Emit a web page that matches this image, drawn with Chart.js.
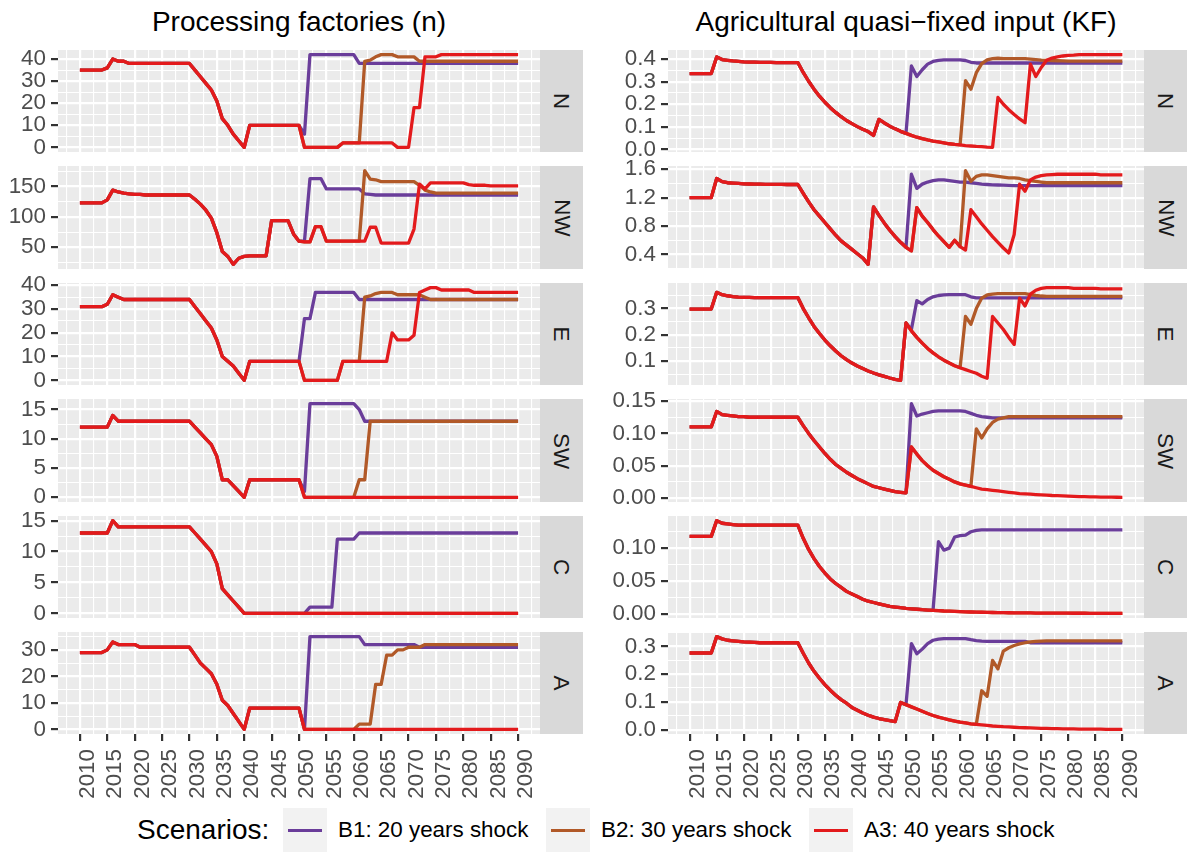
<!DOCTYPE html>
<html>
<head>
<meta charset="utf-8">
<script src="https://cdn.jsdelivr.net/npm/chart.js"></script>
<style>
    body {
        margin: 0;
        width: 1192px;
        height: 854px;
        position: relative;
        overflow: hidden;
        background: #ffffff;
        font-family: "Liberation Sans", Arial, sans-serif;
    }
    canvas { position: absolute; }
    .title {
        position: absolute;
        top: 6px;
        line-height: 32px;
        font-size: 28px;
        color: #000;
        white-space: nowrap;
        transform: translateX(-50%);
    }
    .strip {
        position: absolute;
        background: #d9d9d9;
        color: #1a1a1a;
        font-size: 22.4px;
        display: flex;
        align-items: center;
        justify-content: center;
    }
    .strip span { transform: rotate(90deg); white-space: nowrap; }
    .legend-title, .legend-text {
        position: absolute;
        top: 808px;
        height: 44px;
        line-height: 44px;
        white-space: nowrap;
        color: #000;
    }
    .legend-title { font-size: 28px; }
    .legend-text { font-size: 22.4px; }
    .legend-key {
        position: absolute;
        top: 808px;
        width: 44px;
        height: 44px;
        background: #f2f2f2;
    }
    .legend-key div {
        position: absolute;
        left: 5px;
        right: 5px;
        top: 20.5px;
        height: 3px;
    }
</style>
</head>
<body>
<script>
// DATA (one value per year)
const years = [
    2010, 2011, 2012, 2013, 2014, 2015, 2016, 2017, 2018, 2019,
    2020, 2021, 2022, 2023, 2024, 2025, 2026, 2027, 2028, 2029,
    2030, 2031, 2032, 2033, 2034, 2035, 2036, 2037, 2038, 2039,
    2040, 2041, 2042, 2043, 2044, 2045, 2046, 2047, 2048, 2049,
    2050, 2051, 2052, 2053, 2054, 2055, 2056, 2057, 2058, 2059,
    2060, 2061, 2062, 2063, 2064, 2065, 2066, 2067, 2068, 2069,
    2070, 2071, 2072, 2073, 2074, 2075, 2076, 2077, 2078, 2079,
    2080, 2081, 2082, 2083, 2084, 2085, 2086, 2087, 2088, 2089,
    2090
];
const xTicks = [2010, 2015, 2020, 2025, 2030, 2035, 2040, 2045, 2050, 2055, 2060, 2065, 2070, 2075, 2080, 2085, 2090];

const regions = ["N", "NW", "E", "SW", "C", "A"];
const scenarios = ["B1: 20 years shock", "B2: 30 years shock", "A3: 40 years shock"];

// Processing factories (n): shared path 2010-2050, then each scenario 2051-2090
const nN_shared = [35,35,35,35,35,36,40,39,39,38, 38,38,38,38,38,38,38,38,38,38, 38,35,32,29,26,21,13,10,6,3, 0,10,10,10,10,10,10,10,10,10, 10];
const nN_B1 = [6,42,42,42,42,42,42,42,42,42, 38,38,38,38,38,38,38,38,38,38, 38,38,38,38,38,38,38,38,38,38, 38,38,38,38,38,38,38,38,38,38];
const nN_B2 = [0,0,0,0,0,0,0,2,2,2, 2,39,39.5,41,42,42,42,41,41,41, 41,39,39,39,39,39,39,39,39,39, 39,39,39,39,39,39,39,39,39,39];
const nN_A3 = [0,0,0,0,0,0,0,2,2,2, 2,2,2,2,2,2,2,0,0,0, 18,18,41,41,41,42,42,42,42,42, 42,42,42,42,42,42,42,42,42,42];
const nN_ticks = [0, 10, 20, 30, 40];

const nNW_shared = [123,123,123,123,123,128,144,141,139,138, 137,137,136,136,136,136,136,136,136,136, 136,129,121,111,98,74,43,35,22,32, 35,36,36,36,36,94,94,94,94,72, 60];
const nNW_B1 = [60,163,163,163,146,146,146,146,146,146, 146,138,137,136,136,136,136,136,136,136, 136,136,136,136,136,136,136,136,136,136, 136,136,136,136,136,136,136,136,136,136];
const nNW_B2 = [59,59,84,84,60,60,60,60,60,60, 60,176,162,161,158,158,158,158,158,158, 158,152,144,141,139,139,139,139,139,139, 139,139,139,139,139,139,139,139,139,139];
const nNW_A3 = [59,59,84,84,60,60,60,60,60,60, 60,60,83,83,57,57,57,57,57,57, 80,154,146,156,156,156,156,156,156,156, 153,152,152,152,151,151,151,151,151,151];
const nNW_ticks = [50, 100, 150];

const nE_shared = [31,31,31,31,31,32,36,35,34,34, 34,34,34,34,34,34,34,34,34,34, 34,31,28,25,22,17,10,8,6,3, 0,8,8,8,8,8,8,8,8,8, 8];
const nE_B1 = [26,26,37,37,37,37,37,37,37,37, 34,34,34,34,34,34,34,34,34,34, 34,34,34,34,34,34,34,34,34,34, 34,34,34,34,34,34,34,34,34,34];
const nE_B2 = [0,0,0,0,0,0,0,8,8,8, 8,35,35.5,36.5,37,37,37,36,36,36, 36,36,35,34,34,34,34,34,34,34, 34,34,34,34,34,34,34,34,34,34];
const nE_A3 = [0,0,0,0,0,0,0,8,8,8, 8,8,8,8,8,8,20,17,17,17, 19,37,38,39,39,38,38,38,38,38, 38,37,37,37,37,37,37,37,37,37];
const nE_ticks = [0, 10, 20, 30, 40];

const nSW_shared = [12,12,12,12,12,12,14,13,13,13, 13,13,13,13,13,13,13,13,13,13, 13,12,11,10,9,7,3,3,2,1, 0,3,3,3,3,3,3,3,3,3, 3];
const nSW_B1 = [1,16,16,16,16,16,16,16,16,16, 15,13,13,13,13,13,13,13,13,13, 13,13,13,13,13,13,13,13,13,13, 13,13,13,13,13,13,13,13,13,13];
const nSW_B2 = [0,0,0,0,0,0,0,0,0,0, 3,3,13,13,13,13,13,13,13,13, 13,13,13,13,13,13,13,13,13,13, 13,13,13,13,13,13,13,13,13,13];
const nSW_A3 = [0,0,0,0,0,0,0,0,0,0, 0,0,0,0,0,0,0,0,0,0, 0,0,0,0,0,0,0,0,0,0, 0,0,0,0,0,0,0,0,0,0];
const nSW_ticks = [0, 5, 10, 15];

const nC_shared = [13,13,13,13,13,13,15,14,14,14, 14,14,14,14,14,14,14,14,14,14, 14,13,12,11,10,8,4,3,2,1, 0,0,0,0,0,0,0,0,0,0, 0];
const nC_B1 = [0,1,1,1,1,1,12,12,12,12, 13,13,13,13,13,13,13,13,13,13, 13,13,13,13,13,13,13,13,13,13, 13,13,13,13,13,13,13,13,13,13];
const nC_B2 = [0,0,0,0,0,0,0,0,0,0, 0,0,0,0,0,0,0,0,0,0, 0,0,0,0,0,0,0,0,0,0, 0,0,0,0,0,0,0,0,0,0];
const nC_A3 = [0,0,0,0,0,0,0,0,0,0, 0,0,0,0,0,0,0,0,0,0, 0,0,0,0,0,0,0,0,0,0, 0,0,0,0,0,0,0,0,0,0];
const nC_ticks = [0, 5, 10, 15];

const nA_shared = [29,29,29,29,29,30,33,32,32,32, 32,31,31,31,31,31,31,31,31,31, 31,28,25,23,21,17,11,9,6,3, 0,8,8,8,8,8,8,8,8,8, 8];
const nA_B1 = [0,35,35,35,35,35,35,35,35,35, 35,32,32,32,32,32,32,32,32,32, 32,31,31,31,31,31,31,31,31,31, 31,31,31,31,31,31,31,31,31,31];
const nA_B2 = [0,0,0,0,0,0,0,0,0,0, 2,2,2,17,17,28,28,30,30,31, 31,31,32,32,32,32,32,32,32,32, 32,32,32,32,32,32,32,32,32,32];
const nA_A3 = [0,0,0,0,0,0,0,0,0,0, 0,0,0,0,0,0,0,0,0,0, 0,0,0,0,0,0,0,0,0,0, 0,0,0,0,0,0,0,0,0,0];
const nA_ticks = [0, 10, 20, 30];

// Agricultural quasi-fixed input (KF)
const kN_shared = [0.336,0.336,0.336,0.336,0.336,0.41,0.398,0.395,0.392,0.39, 0.388,0.387,0.387,0.386,0.386,0.386,0.385,0.385,0.385,0.385, 0.385,0.341,0.302,0.267,0.236,0.209,0.185,0.164,0.145,0.128, 0.114,0.101,0.089,0.079,0.062,0.133,0.117,0.103,0.091,0.08, 0.071];
const kN_B1 = [0.37,0.323,0.353,0.378,0.39,0.395,0.397,0.397,0.397,0.397, 0.394,0.386,0.383,0.383,0.383,0.383,0.383,0.383,0.383,0.383, 0.383,0.383,0.383,0.383,0.383,0.383,0.383,0.383,0.383,0.383, 0.383,0.383,0.383,0.383,0.383,0.383,0.383,0.383,0.383,0.383];
const kN_B2 = [0.062,0.054,0.048,0.042,0.037,0.033,0.029,0.025,0.022,0.02, 0.305,0.267,0.34,0.38,0.397,0.402,0.404,0.402,0.402,0.402, 0.402,0.402,0.4,0.398,0.396,0.395,0.394,0.393,0.392,0.391, 0.391,0.391,0.391,0.391,0.391,0.391,0.391,0.391,0.391,0.391];
const kN_A3 = [0.062,0.054,0.048,0.042,0.037,0.033,0.029,0.025,0.022,0.02, 0.017,0.015,0.013,0.012,0.01,0.009,0.23,0.2,0.176,0.155, 0.135,0.118,0.378,0.323,0.363,0.395,0.405,0.41,0.414,0.417, 0.418,0.42,0.42,0.42,0.42,0.42,0.42,0.42,0.42,0.42];
const kN_ticks = [0, 0.1, 0.2, 0.3, 0.4];

const kNW_shared = [1.2,1.2,1.2,1.2,1.2,1.47,1.425,1.41,1.405,1.4, 1.395,1.392,1.39,1.39,1.388,1.388,1.386,1.386,1.385,1.385, 1.385,1.26,1.14,1.03,0.94,0.85,0.76,0.67,0.59,0.53, 0.47,0.41,0.35,0.26,1.07,0.95,0.84,0.74,0.65,0.57, 0.5];
const kNW_B1 = [1.53,1.33,1.39,1.42,1.44,1.45,1.45,1.44,1.43,1.42, 1.42,1.41,1.4,1.39,1.385,1.38,1.378,1.375,1.372,1.37, 1.37,1.37,1.37,1.37,1.37,1.37,1.37,1.37,1.37,1.37, 1.37,1.37,1.37,1.37,1.37,1.37,1.37,1.37,1.37,1.37];
const kNW_B2 = [0.45,1.06,0.94,0.85,0.75,0.66,0.58,0.5,0.6,0.51, 1.58,1.43,1.5,1.52,1.52,1.51,1.5,1.49,1.48,1.48, 1.47,1.45,1.44,1.43,1.42,1.41,1.41,1.41,1.41,1.41, 1.41,1.41,1.41,1.41,1.41,1.41,1.41,1.41,1.41,1.41];
const kNW_A3 = [0.45,1.06,0.94,0.85,0.75,0.66,0.58,0.5,0.6,0.51, 0.46,1.03,0.93,0.83,0.74,0.65,0.57,0.49,0.42,0.68, 1.39,1.29,1.45,1.49,1.51,1.52,1.525,1.53,1.53,1.53, 1.53,1.53,1.53,1.53,1.53,1.52,1.52,1.52,1.52,1.52];
const kNW_ticks = [0.4, 0.8, 1.2, 1.6];

const kE_shared = [0.298,0.298,0.298,0.298,0.298,0.362,0.353,0.349,0.346,0.344, 0.343,0.343,0.342,0.342,0.342,0.342,0.342,0.342,0.342,0.342, 0.342,0.3,0.265,0.232,0.205,0.18,0.158,0.138,0.12,0.105, 0.092,0.081,0.071,0.062,0.054,0.047,0.041,0.035,0.03,0.026, 0.245];
const kE_B1 = [0.22,0.33,0.318,0.335,0.345,0.35,0.352,0.353,0.353,0.353, 0.353,0.345,0.341,0.341,0.341,0.341,0.341,0.341,0.341,0.341, 0.341,0.341,0.341,0.341,0.341,0.341,0.341,0.341,0.341,0.341, 0.341,0.341,0.341,0.341,0.341,0.341,0.341,0.341,0.341,0.341];
const kE_B2 = [0.215,0.19,0.168,0.148,0.131,0.116,0.103,0.092,0.082,0.074, 0.27,0.24,0.3,0.34,0.352,0.355,0.357,0.357,0.357,0.357, 0.357,0.357,0.353,0.35,0.348,0.347,0.347,0.347,0.347,0.347, 0.347,0.347,0.347,0.347,0.347,0.347,0.347,0.347,0.347,0.347];
const kE_A3 = [0.215,0.19,0.168,0.148,0.131,0.116,0.103,0.092,0.082,0.074, 0.067,0.06,0.053,0.042,0.034,0.27,0.245,0.22,0.19,0.163, 0.34,0.31,0.355,0.37,0.377,0.38,0.38,0.38,0.38,0.38, 0.377,0.377,0.377,0.377,0.377,0.375,0.375,0.375,0.375,0.375];
const kE_ticks = [0.1, 0.2, 0.3];

const kSW_shared = [0.11,0.11,0.11,0.11,0.11,0.134,0.129,0.128,0.127,0.126, 0.126,0.125,0.125,0.125,0.125,0.125,0.125,0.125,0.125,0.125, 0.125,0.112,0.1,0.089,0.079,0.069,0.06,0.052,0.046,0.04, 0.035,0.03,0.026,0.022,0.018,0.016,0.014,0.012,0.01,0.009, 0.008];
const kSW_B1 = [0.146,0.127,0.13,0.132,0.134,0.135,0.135,0.135,0.135,0.135, 0.134,0.131,0.128,0.126,0.125,0.124,0.124,0.124,0.124,0.124, 0.124,0.124,0.124,0.124,0.124,0.124,0.124,0.124,0.124,0.124, 0.124,0.124,0.124,0.124,0.124,0.124,0.124,0.124,0.124,0.124];
const kSW_B2 = [0.079,0.068,0.058,0.05,0.043,0.038,0.033,0.029,0.025,0.022, 0.02,0.018,0.107,0.093,0.107,0.117,0.122,0.124,0.126,0.126, 0.126,0.126,0.126,0.126,0.126,0.126,0.126,0.126,0.126,0.126, 0.126,0.126,0.126,0.126,0.126,0.126,0.126,0.126,0.126,0.126];
const kSW_A3 = [0.079,0.068,0.058,0.05,0.043,0.038,0.033,0.029,0.025,0.022, 0.02,0.018,0.016,0.014,0.013,0.012,0.011,0.01,0.009,0.008, 0.007,0.0065,0.006,0.0055,0.005,0.0045,0.004,0.0037,0.0034,0.003, 0.0027,0.0024,0.0022,0.002,0.0018,0.0016,0.0015,0.0014,0.0013,0.0012];
const kSW_ticks = [0, 0.05, 0.1, 0.15];

const kC_shared = [0.118,0.118,0.118,0.118,0.118,0.142,0.138,0.137,0.136,0.135, 0.135,0.135,0.135,0.135,0.135,0.135,0.135,0.135,0.135,0.135, 0.135,0.115,0.098,0.084,0.072,0.062,0.053,0.046,0.04,0.034, 0.03,0.026,0.022,0.019,0.017,0.015,0.013,0.011,0.01,0.009, 0.008];
const kC_B1 = [0.0073,0.0067,0.006,0.0055,0.005,0.11,0.097,0.1,0.117,0.119, 0.12,0.125,0.127,0.128,0.128,0.128,0.128,0.128,0.128,0.128, 0.128,0.128,0.128,0.128,0.128,0.128,0.128,0.128,0.128,0.128, 0.128,0.128,0.128,0.128,0.128,0.128,0.128,0.128,0.128,0.128];
const kC_B2 = [0.0073,0.0067,0.006,0.0055,0.005,0.0045,0.004,0.0037,0.0034,0.003, 0.0027,0.0025,0.0023,0.0021,0.0019,0.0017,0.0015,0.0014,0.0013,0.0012, 0.0011,0.001,0.001,0.0009,0.0009,0.0008,0.0008,0.0007,0.0007,0.0007, 0.0006,0.0006,0.0006,0.0005,0.0005,0.0005,0.0005,0.0004,0.0004,0.0004];
const kC_A3 = [0.0073,0.0067,0.006,0.0055,0.005,0.0045,0.004,0.0037,0.0034,0.003, 0.0027,0.0025,0.0023,0.0021,0.0019,0.0017,0.0015,0.0014,0.0013,0.0012, 0.0011,0.001,0.001,0.0009,0.0009,0.0008,0.0008,0.0007,0.0007,0.0007, 0.0006,0.0006,0.0006,0.0005,0.0005,0.0005,0.0005,0.0004,0.0004,0.0004];
const kC_ticks = [0, 0.05, 0.1];

const kA_shared = [0.276,0.276,0.276,0.276,0.276,0.335,0.327,0.322,0.32,0.318, 0.316,0.315,0.314,0.313,0.313,0.313,0.313,0.313,0.313,0.313, 0.313,0.275,0.24,0.21,0.185,0.162,0.142,0.124,0.108,0.095, 0.08,0.07,0.06,0.052,0.045,0.04,0.036,0.032,0.029,0.098, 0.09];
const kA_B1 = [0.31,0.273,0.29,0.31,0.322,0.326,0.328,0.328,0.328,0.328, 0.328,0.324,0.321,0.319,0.318,0.318,0.318,0.318,0.318,0.318, 0.318,0.318,0.313,0.313,0.313,0.313,0.313,0.313,0.313,0.313, 0.313,0.313,0.313,0.313,0.313,0.313,0.313,0.313,0.313,0.313];
const kA_B2 = [0.082,0.074,0.066,0.058,0.051,0.045,0.04,0.035,0.031,0.027, 0.024,0.021,0.019,0.14,0.12,0.249,0.219,0.283,0.295,0.303, 0.309,0.313,0.316,0.318,0.319,0.32,0.32,0.32,0.32,0.32, 0.32,0.32,0.32,0.32,0.32,0.32,0.32,0.32,0.32,0.32];
const kA_A3 = [0.082,0.074,0.066,0.058,0.051,0.045,0.04,0.035,0.031,0.027, 0.024,0.021,0.019,0.017,0.015,0.013,0.012,0.0105,0.0095,0.0085, 0.0075,0.0067,0.006,0.0053,0.0047,0.0042,0.0037,0.0033,0.003,0.0027, 0.0024,0.0021,0.0019,0.0017,0.0015,0.0014,0.0012,0.0011,0.001,0.0009];
const kA_ticks = [0, 0.1, 0.2, 0.3];

// STYLE / LAYOUT
const colors = ["#6A3D9A", "#B15928", "#E31A1C"];
const FONT = "'Liberation Sans', Arial, sans-serif";
const ROW_TOP = 50, ROW_H = 102.4, ROW_PITCH = 116.4;
const PAD = 14, X_AXIS_H = 70, STRIP_W = 43;

const columns = [
    {
        left: 0, panelL: 58, panelR: 540,
        title: "Processing factories (n)",
        panels: [
            [nN_shared, nN_B1, nN_B2, nN_A3, nN_ticks, 0],
            [nNW_shared, nNW_B1, nNW_B2, nNW_A3, nNW_ticks, 0],
            [nE_shared, nE_B1, nE_B2, nE_A3, nE_ticks, 0],
            [nSW_shared, nSW_B1, nSW_B2, nSW_A3, nSW_ticks, 0],
            [nC_shared, nC_B1, nC_B2, nC_A3, nC_ticks, 0],
            [nA_shared, nA_B1, nA_B2, nA_A3, nA_ticks, 0]
        ]
    },
    {
        left: 600, panelL: 668, panelR: 1144,
        title: "Agricultural quasi\u2212fixed input (KF)",
        panels: [
            [kN_shared, kN_B1, kN_B2, kN_A3, kN_ticks, 1],
            [kNW_shared, kNW_B1, kNW_B2, kNW_A3, kNW_ticks, 1],
            [kE_shared, kE_B1, kE_B2, kE_A3, kE_ticks, 1],
            [kSW_shared, kSW_B1, kSW_B2, kSW_A3, kSW_ticks, 2],
            [kC_shared, kC_B1, kC_B2, kC_A3, kC_ticks, 2],
            [kA_shared, kA_B1, kA_B2, kA_A3, kA_ticks, 1]
        ]
    }
];

// panel background (ggplot grey)
const panelBg = {
    id: "panelBg",
    beforeDraw(chart) {
        let a = chart.chartArea;
        let c = chart.ctx;
        c.save();
        c.fillStyle = "#EBEBEB";
        c.fillRect(a.left, a.top, a.right - a.left, a.bottom - a.top);
        c.restore();
    }
};

function toPoints(shared, tail) {
    return shared.concat(tail).map((v, i) => ({ x: years[i], y: v }));
}

// major ticks + ggplot-style minor ticks halfway between them
function tickList(major, lo, hi) {
    let step = major[1] - major[0];
    let all = major.slice();
    all.push(major[0] - step / 2);
    for (let i = 0; i < major.length; i++) all.push(major[i] + step / 2);
    return all
        .map(v => Math.round(v * 1e6) / 1e6)
        .filter(v => v >= lo && v <= hi)
        .sort((a, b) => a - b);
}

function isMajor(major, v) {
    return major.some(m => Math.abs(m - v) < 1e-7);
}

function makePanel(col, row, p) {
    let [shared, b1, b2, a3, yMajor, dec] = p;
    let last = row === regions.length - 1;

    let top = Math.round(ROW_TOP + ROW_PITCH * row);
    let bottom = Math.round(ROW_TOP + ROW_PITCH * row + ROW_H);
    let h = bottom - top;

    let canvas = document.createElement("canvas");
    canvas.width = col.panelR - col.left;
    canvas.height = PAD + h + (last ? X_AXIS_H : PAD);
    canvas.style.left = col.left + "px";
    canvas.style.top = (top - PAD) + "px";
    document.body.appendChild(canvas);

    // strip on the right
    let strip = document.createElement("div");
    strip.className = "strip";
    strip.style.left = col.panelR + "px";
    strip.style.top = top + "px";
    strip.style.width = STRIP_W + "px";
    strip.style.height = h + "px";
    strip.innerHTML = "<span>" + regions[row] + "</span>";
    document.body.appendChild(strip);

    // free y range with 5% expansion, like ggplot
    let all = shared.concat(b1, b2, a3);
    let lo = Math.min(...all), hi = Math.max(...all);
    let yMin = lo - 0.05 * (hi - lo), yMax = hi + 0.05 * (hi - lo);
    let xMin = years[0] - 0.05 * (years[years.length - 1] - years[0]);
    let xMax = years[years.length - 1] + 0.05 * (years[years.length - 1] - years[0]);
    let yAll = tickList(yMajor, yMin, yMax);
    let xAll = tickList(xTicks, xMin, xMax);

    let series = [b1, b2, a3];
    let datasets = series.map((tail, i) => ({
        label: scenarios[i],
        data: toPoints(shared, tail),
        borderColor: colors[i],
        borderWidth: 3.3,
        borderJoinStyle: "round",
        pointRadius: 0,
        tension: 0,
        order: 3 - i
    }));

    new Chart(canvas, {
        type: "line",
        data: { datasets: datasets },
        options: {
            responsive: false,
            animation: false,
            devicePixelRatio: 1,
            events: [],
            layout: { padding: { top: PAD, bottom: last ? 0 : PAD, left: 0, right: 0 } },
            plugins: { legend: { display: false }, tooltip: { enabled: false } },
            scales: {
                x: {
                    type: "linear",
                    min: xMin,
                    max: xMax,
                    border: { display: false },
                    afterBuildTicks: s => { s.ticks = xAll.map(v => ({ value: v })); },
                    afterFit: s => {
                        s.height = last ? X_AXIS_H : 0;
                        s.paddingLeft = 0;
                        s.paddingRight = 0;
                    },
                    grid: {
                        color: "#FFFFFF",
                        lineWidth: c => (c.tick && isMajor(xTicks, c.tick.value)) ? 2.2 : 1.1,
                        drawTicks: last,
                        tickLength: 7,
                        tickWidth: 2.2,
                        tickColor: c => (c.tick && isMajor(xTicks, c.tick.value)) ? "#333333" : "rgba(0,0,0,0)"
                    },
                    ticks: {
                        display: last,
                        autoSkip: false,
                        minRotation: 90,
                        maxRotation: 90,
                        padding: 8,
                        labelOffset: 8,
                        color: "#4D4D4D",
                        font: { family: FONT, size: 22.4 },
                        callback: v => isMajor(xTicks, v) ? String(Math.round(v)) : ""
                    }
                },
                y: {
                    type: "linear",
                    min: yMin,
                    max: yMax,
                    border: { display: false },
                    afterBuildTicks: s => { s.ticks = yAll.map(v => ({ value: v })); },
                    afterFit: s => {
                        s.width = col.panelL - col.left;
                        s.paddingTop = 0;
                        s.paddingBottom = 0;
                    },
                    grid: {
                        color: "#FFFFFF",
                        lineWidth: c => (c.tick && isMajor(yMajor, c.tick.value)) ? 2.2 : 1.1,
                        tickLength: 7,
                        tickWidth: 2.2,
                        tickColor: c => (c.tick && isMajor(yMajor, c.tick.value)) ? "#333333" : "rgba(0,0,0,0)"
                    },
                    ticks: {
                        autoSkip: false,
                        padding: 5,
                        color: "#4D4D4D",
                        font: { family: FONT, size: 22.4 },
                        callback: v => isMajor(yMajor, v) ? Number(v).toFixed(dec) : ""
                    }
                }
            }
        },
        plugins: [panelBg]
    });
}

function addDiv(cls, html, left) {
    let d = document.createElement("div");
    d.className = cls;
    d.innerHTML = html;
    d.style.left = left + "px";
    document.body.appendChild(d);
    return d;
}

// TITLES + PANELS
columns.forEach(col => {
    addDiv("title", col.title, (col.panelL + col.panelR) / 2);
    col.panels.forEach((p, row) => makePanel(col, row, p));
});

// LEGEND
addDiv("legend-title", "Scenarios:", 137);
const keyX = [283, 546, 809];
scenarios.forEach((name, i) => {
    addDiv("legend-key", "<div style='background:" + colors[i] + "'></div>", keyX[i]);
    addDiv("legend-text", name, keyX[i] + 55);
});
</script>
</body>
</html>
